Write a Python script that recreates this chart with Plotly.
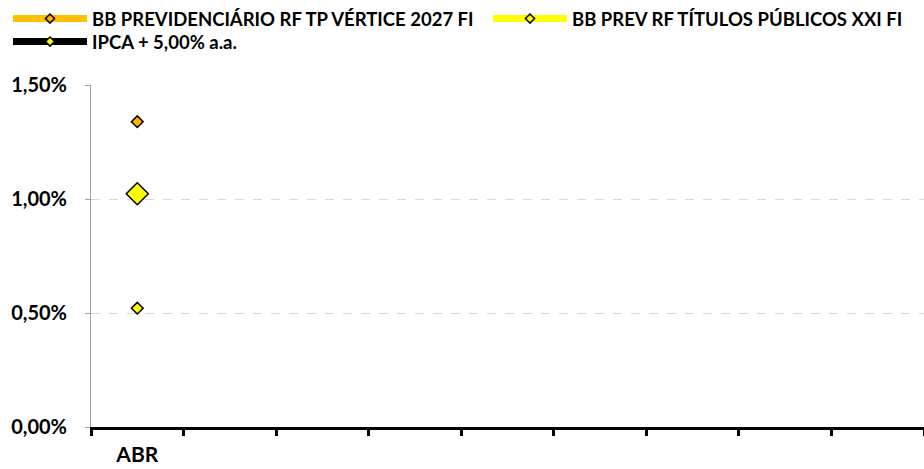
import plotly.graph_objects as go

months = ["ABR", "MAI", "JUN", "JUL", "AGO", "SET", "OUT", "NOV", "DEZ"]
month_labels = ["ABR", "", "", "", "", "", "", "", ""]
x_data = ["ABR"]
series_names = ["BB PREVIDENCIÁRIO RF TP VÉRTICE 2027 FI",
                "BB PREV RF TÍTULOS PÚBLICOS XXI FI",
                "IPCA + 5,00% a.a."]
vertice_2027 = [0.01339]
titulos_xxi = [0.00521]
ipca_5 = [0.01023]
y_ticks = [0.0, 0.005, 0.01, 0.015]

line_colors = ["#FFC000", "#FFFF00", "#000000"]
marker_fills = ["#FFB400", "#FFFF00", "#FFFF00"]
marker_sizes = [9, 9, 17]
legend_ids = ["legend", "legend2", "legend3"]

FONT = "Lato"
W, H = 924, 469

fig = go.Figure()
for name, vals, lc, mf, ms, lg in zip(series_names, [vertice_2027, titulos_xxi, ipca_5],
                                      line_colors, marker_fills, marker_sizes, legend_ids):
    fig.add_trace(go.Scatter(
        x=x_data, y=vals, name=name, legendgroup=name, showlegend=False,
        mode="lines+markers", line=dict(color=lc, width=6),
        marker=dict(symbol="diamond", size=ms, color=mf, line=dict(color="#000000", width=1.5)),
    ))
    fig.add_trace(go.Scatter(
        x=[None], y=[None], name=name, legendgroup=name, legend=lg,
        mode="lines+markers", line=dict(color=lc, width=7),
        marker=dict(symbol="diamond", size=7, color=mf, line=dict(color="#000000", width=1.5)),
    ))

def leg(x_px, y_px):
    return dict(
        orientation="v", xref="container", yref="container",
        x=x_px / W, y=1 - y_px / H, xanchor="left", yanchor="top",
        font=dict(family=FONT, size=18.5, color="#000000", weight="bold"),
        itemwidth=74, tracegroupgap=0, bgcolor="rgba(0,0,0,0)",
    )

fig.update_layout(
    width=W, height=H,
    margin=dict(l=91, r=0, t=85, b=42, autoexpand=False),
    paper_bgcolor="white", plot_bgcolor="white",
    separators=",.",
    font=dict(family=FONT, color="#000000"),
    showlegend=True,
    legend=leg(8, 0),
    legend2=leg(488, 0),
    legend3=leg(8, 23),
    xaxis=dict(
        type="category", categoryorder="array", categoryarray=months,
        tickmode="array", tickvals=months, ticktext=month_labels,
        range=[-0.5, len(months) - 0.5], tickson="boundaries",
        ticks="outside", ticklen=6, tickwidth=3, tickcolor="#000000",
        showline=True, linecolor="#000000", linewidth=3,
        showgrid=False, zeroline=False, ticklabelstandoff=7,
        tickfont=dict(family=FONT, size=21, color="#000000", weight="bold"),
    ),
    yaxis=dict(
        range=[0, 0.015], tickmode="array", tickvals=y_ticks, tickformat=".2%",
        ticks="outside", ticklen=5, tickcolor="#A0A0A0", tickwidth=1,
        showline=True, linecolor="#A0A0A0", linewidth=1,
        showgrid=True, gridcolor="#D9D9D9", griddash="dash", gridwidth=1,
        zeroline=False, ticklabelstandoff=14,
        tickfont=dict(family=FONT, size=20, color="#000000", weight="bold"),
    ),
)

fig.write_html("out.html", config={"displayModeBar": False},
               post_script="document.body.style.margin='0';document.body.style.overflow='hidden';")
